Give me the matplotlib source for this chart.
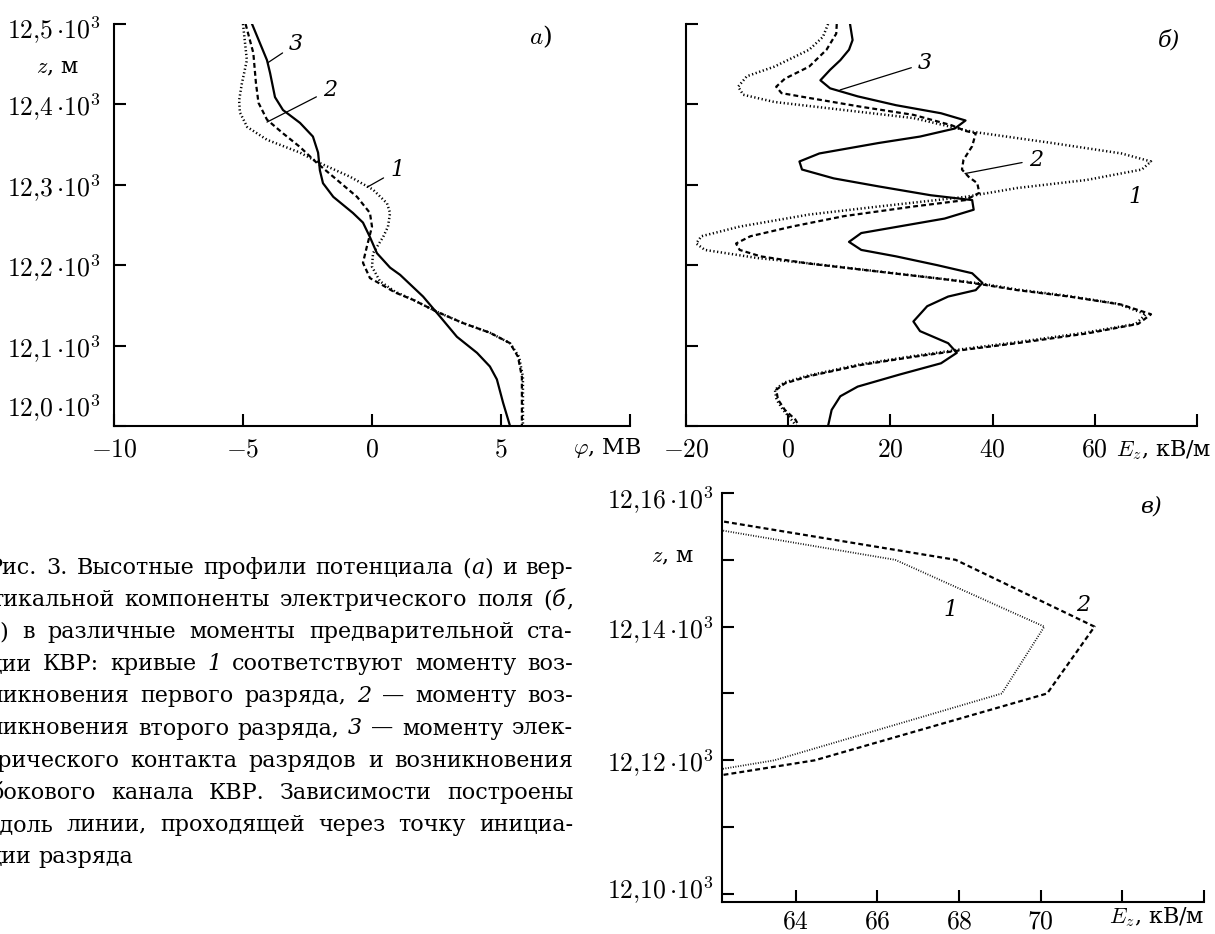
import matplotlib
matplotlib.use("Agg")
import matplotlib.pyplot as plt
from matplotlib.transforms import ScaledTranslation

plt.rcParams["mathtext.fontset"] = "cm"
plt.rcParams["font.family"] = ["DejaVu Serif"]

# ---------- panel (a): potential phi (MV) vs height z (m) ----------
phi_1 = [-5.00, -4.85, -5.05, -5.15, -5.12, -4.84, -4.07, -2.79, -2.02, -0.85,
         0.04, 0.58, 0.70, 0.62, 0.43, 0.04, 0.00, 0.31, 0.90, 1.59,
         2.52, 3.53, 4.57, 5.35, 5.70, 5.85, 5.85]
z_phi_1 = [12500, 12455, 12425, 12405, 12390, 12372, 12356, 12340, 12327, 12310,
           12294, 12277, 12265, 12248, 12235, 12215, 12198, 12180, 12167, 12157,
           12142, 12128, 12116, 12103, 12086, 12061, 12000]
phi_2 = [-4.90, -4.60, -4.50, -4.40, -4.07, -3.45, -2.79, -2.13, -1.50, -0.58,
         -0.08, 0.00, -0.20, -0.35, -0.08, 0.31, 0.90, 1.59, 2.52, 3.53,
         4.57, 5.35, 5.66, 5.81, 5.81]
z_phi_2 = [12500, 12464, 12427, 12402, 12381, 12364, 12347, 12327, 12310, 12285,
           12265, 12248, 12223, 12203, 12184, 12177, 12166, 12157, 12142, 12128,
           12116, 12103, 12086, 12061, 12000]
phi_3 = [-4.65, -4.07, -3.95, -3.76, -3.45, -2.79, -2.29, -2.09, -2.02, -1.90,
         -1.50, -0.74, -0.35, -0.08, 0.19, 0.70, 1.09, 1.98, 2.64, 3.29,
         4.07, 4.57, 4.84, 5.08, 5.35]
z_phi_3 = [12500, 12455, 12439, 12409, 12393, 12377, 12360, 12340, 12318, 12302,
           12285, 12265, 12253, 12235, 12215, 12197, 12188, 12161, 12136, 12111,
           12091, 12074, 12058, 12029, 12000]

# ---------- panel (б): vertical field Ez (kV/m) vs z ----------
ez_1 = [7.8, 6.8, 4.1, -2.7, -8.1, -9.8, -8.8, -2.7, 10.9, 24.5,
        36.0, 51.6, 65.2, 71.0, 69.2, 58.4, 44.8, 34.7, 17.7, 4.1,
        -9.5, -17.0, -18.0, -16.3, -6.1, 4.5, 18.0, 31.5, 38.0, 44.5,
        54.5, 64.5, 70.0, 68.0, 58.0, 44.5, 34.5, 24.5, 14.3, 4.1,
        -0.8, -2.6, -2.3, -1.0, 0.6, 1.6]
z_ez_1 = [12500, 12484, 12468, 12447, 12435, 12422, 12412, 12403, 12393, 12383,
          12366, 12352, 12339, 12329, 12319, 12306, 12296, 12285, 12273, 12263,
          12248, 12236, 12227, 12219, 12209, 12202, 12192, 12182, 12177, 12170,
          12162, 12152, 12139, 12127, 12116, 12104, 12096, 12087, 12077, 12063,
          12054, 12045, 12033, 12020, 12008, 12000]
ez_2 = [9.5, 9.4, 7.5, 4.1, -0.65, -2.35, -1.3, 4.1, 14.3, 24.5,
        32.0, 34.7, 36.7, 36.0, 34.3, 34.0, 35.3, 37.0, 37.4, 34.7,
        24.5, 10.9, 0.7, -7.4, -10.2, -9.5, -5.4, 4.1, 17.7, 31.3,
        38.0, 44.8, 55.0, 65.2, 71.0, 68.5, 58.4, 44.8, 34.7, 24.5,
        14.3, 4.1, -0.65, -2.35, -2.0, -0.65, 1.4, 2.1]
z_ez_2 = [12500, 12488, 12468, 12447, 12432, 12422, 12414, 12408, 12397, 12387,
          12374, 12367, 12364, 12348, 12331, 12319, 12310, 12302, 12290, 12281,
          12273, 12261, 12248, 12236, 12227, 12219, 12211, 12202, 12192, 12182,
          12176, 12169, 12161, 12151, 12139, 12127, 12115, 12103, 12095, 12086,
          12076, 12062, 12053, 12045, 12033, 12020, 12008, 12000]
ez_3 = [12.1, 12.6, 11.9, 10.2, 8.2, 6.3, 8.2, 13.6, 21.1, 29.9,
        34.7, 32.6, 25.8, 17.7, 6.1, 2.2, 2.7, 8.9, 17.7, 27.9,
        36.0, 36.3, 30.6, 14.3, 11.9, 14.3, 21.1, 29.2, 36.0, 38.0,
        36.7, 31.3, 27.2, 24.5, 25.8, 31.3, 33.0, 29.9, 21.8, 13.6,
        10.2, 8.5, 7.8]
z_ez_3 = [12500, 12480, 12468, 12455, 12443, 12430, 12420, 12410, 12399, 12389,
          12380, 12370, 12360, 12352, 12339, 12329, 12319, 12308, 12298, 12287,
          12281, 12269, 12258, 12240, 12229, 12219, 12211, 12200, 12190, 12178,
          12169, 12161, 12149, 12130, 12118, 12103, 12091, 12078, 12064, 12049,
          12037, 12020, 12000]

# ---------- panel (в): zoom of Ez near the maximum ----------
z_zoom = [12160, 12150, 12140, 12130, 12120, 12110]
ez_zoom_1 = [56.8, 66.44, 70.09, 69.05, 63.48, 53.6]
ez_zoom_2 = [58.0, 67.92, 71.32, 70.16, 64.47, 54.2]

# tick labels
a_xticks = [-10, -5, 0, 5, 10]
a_xlabels = [r"$-10$", r"$-5$", r"$0$", r"$5$", ""]
z_ticks = [12000, 12100, 12200, 12300, 12400, 12500]
z_labels = [r"$12{,}%d\,{\cdot}10^3$" % d for d in (0, 1, 2, 3, 4, 5)]
b_xticks = [-20, 0, 20, 40, 60, 80]
b_xlabels = [r"$-20$", r"$0$", r"$20$", r"$40$", r"$60$", ""]
c_xticks = [64, 66, 68, 70, 72, 74]
c_xlabels = [r"$64$", r"$66$", r"$68$", r"$70$", "", ""]
c_yticks = [12100, 12110, 12120, 12130, 12140, 12150, 12160]
c_ylabels = [r"$12{,}10\,{\cdot}10^3$", "", r"$12{,}12\,{\cdot}10^3$", "",
             r"$12{,}14\,{\cdot}10^3$", "", r"$12{,}16\,{\cdot}10^3$"]

# caption: (hidden prefix of first word, words); _x_ marks italic pieces
caption = [
    ("Р", ["Рис.", "3.", "Высотные", "профили", "потенциала", "(_a_)", "и", "вер-"]),
    ("т", ["тикальной", "компоненты", "электрического", "поля", "(_б_,"]),
    ("в", ["_в_)", "в", "различные", "моменты", "предварительной", "ста-"]),
    ("д", ["дии", "КВР:", "кривые", "_1_", "соответствуют", "моменту", "воз-"]),
    ("н", ["никновения", "первого", "разряда,", "_2_", "—", "моменту", "воз-"]),
    ("н", ["никновения", "второго", "разряда,", "_3_", "—", "моменту", "элек-"]),
    ("т", ["трического", "контакта", "разрядов", "и", "возникновения"]),
    ("б", ["бокового", "канала", "КВР.", "Зависимости", "построены"]),
    ("в", ["вдоль", "линии,", "проходящей", "через", "точку", "инициа-"]),
    ("ц", ["ции", "разряда"]),
]
caption_x0 = [3, 3, -1, 2, 3, 3, -3, 4, 0, 2]

W, H = 1215, 934
fig = plt.figure(figsize=(W / 100, H / 100), dpi=100)

TICK_FS = 18.5
LW = 1.6
solid = dict(color="black", lw=LW, ls="-")
dashed = dict(color="black", lw=LW, ls=(0, (2.2, 1.4)))
dotted = dict(color="black", lw=1.8, ls=(0, (0.5, 1.0)))


def panel(left, top, right, bottom):
    ax = fig.add_axes([left / W, 1 - bottom / H, (right - left) / W, (bottom - top) / H])
    ax.patch.set_alpha(0)
    for s in ("top", "right"):
        ax.spines[s].set_visible(False)
    for s in ("left", "bottom"):
        ax.spines[s].set_linewidth(1.5)
    ax.tick_params(direction="in", length=8.5, width=1.5, labelsize=TICK_FS)
    return ax


def shift_label(label, dy_px):
    label.set_transform(label.get_transform()
                        + ScaledTranslation(0, dy_px / 100, fig.dpi_scale_trans))


def curve_no(ax, s, xy, xytext=None, fs=16):
    if xytext is None:
        ax.text(xy[0], xy[1], s, fontsize=fs, style="italic", ha="center", va="center")
    else:
        ax.annotate(s, xy=xy, xytext=xytext, fontsize=fs, style="italic",
                    ha="center", va="center",
                    arrowprops=dict(arrowstyle="-", lw=0.9, color="black",
                                    shrinkA=3, shrinkB=0))


# ----- (a) -----
ax_a = panel(114, 24, 630, 426)
ax_a.plot(phi_1, z_phi_1, **dotted)
ax_a.plot(phi_2, z_phi_2, **dashed)
ax_a.plot(phi_3, z_phi_3, **solid)
ax_a.set_xlim(-10, 10)
ax_a.set_ylim(12000, 12500)
ax_a.set_xticks(a_xticks, a_xlabels)
ax_a.set_yticks(z_ticks, z_labels)
ax_a.tick_params(axis="x", pad=7.5)
ax_a.tick_params(axis="y", pad=10)
ylabs = ax_a.get_yticklabels()
shift_label(ylabs[0], 21)
shift_label(ylabs[-1], -3)
ax_a.text(0.955, -0.055, r"$\varphi$, МВ", transform=ax_a.transAxes,
          fontsize=16, ha="center", va="center")
ax_a.text(-0.11, 0.891, r"$z$, м", transform=ax_a.transAxes,
          fontsize=16, ha="center", va="center")
ax_a.text(0.826, 0.968, r"$a$)", transform=ax_a.transAxes,
          fontsize=18, ha="center", va="center")
curve_no(ax_a, "3", (-4.03, 12452), (-2.95, 12475))
curve_no(ax_a, "2", (-4.07, 12378), (-1.63, 12418))
curve_no(ax_a, "1", (-0.19, 12297), (0.97, 12318))

# ----- (б) -----
ax_b = panel(686, 24, 1197, 426)
ax_b.plot(ez_1, z_ez_1, **dotted)
ax_b.plot(ez_2, z_ez_2, **dashed)
ax_b.plot(ez_3, z_ez_3, **solid)
ax_b.set_xlim(-20, 80)
ax_b.set_ylim(12000, 12500)
ax_b.set_xticks(b_xticks, b_xlabels)
ax_b.set_yticks(z_ticks, [""] * len(z_ticks))
ax_b.tick_params(axis="x", pad=7.5)
ax_b.text(0.935, -0.06, r"$E_z$, кВ/м", transform=ax_b.transAxes,
          fontsize=16, ha="center", va="center")
ax_b.text(0.945, 0.96, "б)", transform=ax_b.transAxes, style="italic",
          fontsize=16, ha="center", va="center")
curve_no(ax_b, "3", (10.16, 12418), (26.8, 12451))
curve_no(ax_b, "2", (34.6, 12314), (48.5, 12331))
curve_no(ax_b, "1", (67.9, 12285))

# ----- (в) -----
ax_c = panel(722, 493, 1204, 902)
ax_c.plot(ez_zoom_1, z_zoom, color="black", lw=1.3, ls=(0, (0.5, 0.9)))
ax_c.plot(ez_zoom_2, z_zoom, **dashed)
ax_c.set_xlim(62.2, 74)
ax_c.set_ylim(12098.8, 12160)
ax_c.set_xticks(c_xticks, c_xlabels)
ax_c.set_yticks(c_yticks, c_ylabels)
ax_c.tick_params(axis="x", pad=5)
ax_c.tick_params(axis="y", pad=6)
ylabs = ax_c.get_yticklabels()
shift_label(ylabs[0], 7)
shift_label(ylabs[-1], -4)
ax_c.text(0.902, -0.037, r"$E_z$, кВ/м", transform=ax_c.transAxes,
          fontsize=16, ha="center", va="center")
ax_c.text(-0.102, 0.844, r"$z$, м", transform=ax_c.transAxes,
          fontsize=16, ha="center", va="center")
ax_c.text(0.89, 0.966, "в)", transform=ax_c.transAxes, style="italic",
          fontsize=16, ha="center", va="center")
curve_no(ax_c, "1", (67.8, 12142.5))
curve_no(ax_c, "2", (71.03, 12143.3))

# ----- caption (justified block, left edge cut by the figure) -----
CAP_FS = 16
renderer = fig.canvas.get_renderer()


def pieces(word):
    return [(p, i % 2 == 1) for i, p in enumerate(word.split("_")) if p]


def width(s, italic=False):
    t = fig.text(0, 0, s, fontsize=CAP_FS, style="italic" if italic else "normal")
    w = t.get_window_extent(renderer).width
    t.remove()
    return w


def word_width(word):
    return sum(width(p, it) for p, it in pieces(word))


space_w = width("н н") - 2 * width("н")
right_edge = 573
for i, ((prefix, words), x_vis) in enumerate(zip(caption, caption_x0)):
    y = 1 - (574 + 32.1 * i) / H
    x = x_vis - width(prefix)
    widths = [word_width(w) for w in words]
    if i < len(caption) - 1:
        gap = (right_edge - x - sum(widths)) / (len(words) - 1)
    else:
        gap = space_w
    for w, ww in zip(words, widths):
        xx = x
        for p, it in pieces(w):
            fig.text(xx / W, y, p, fontsize=CAP_FS, va="baseline",
                     style="italic" if it else "normal")
            xx += width(p, it)
        x += ww + gap

fig.savefig("out.png", dpi=100)
